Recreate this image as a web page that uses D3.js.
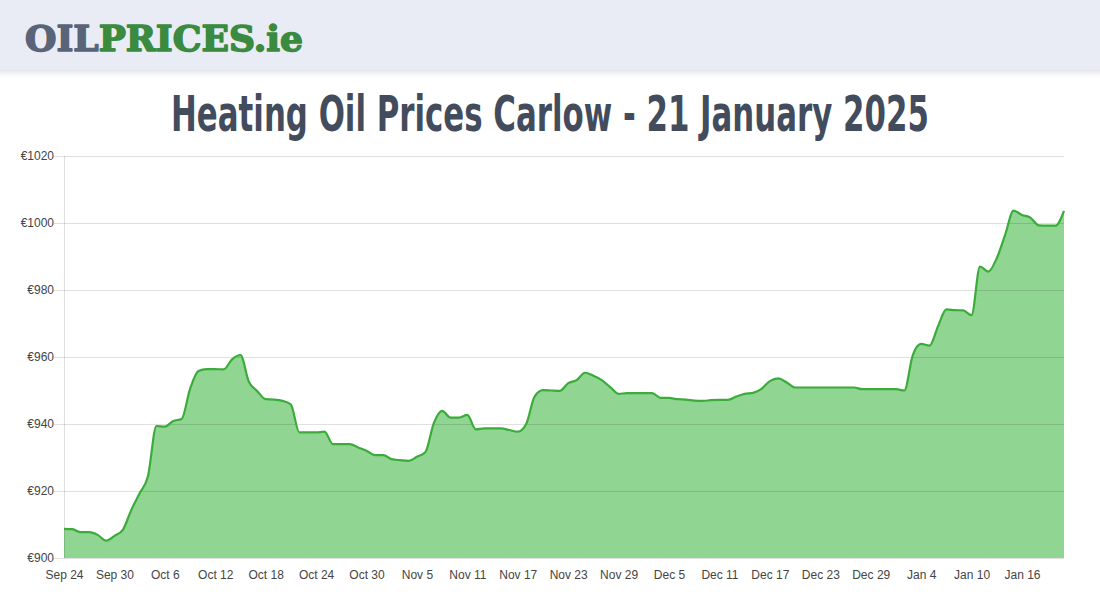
<!DOCTYPE html>
<html>
<head>
<meta charset="utf-8">
<script src="https://cdn.jsdelivr.net/npm/d3@7"></script>
<style>
  html, body { margin: 0; padding: 0; background: #ffffff; }
  svg { display: block; }
</style>
</head>
<body>
<div id="chart"></div>
<script>
// ---- data ----
const titleText = "Heating Oil Prices Carlow - 21 January 2025";
const startDate = "2024-09-24";
// daily prices (€), Sep 24 2024 -> Jan 21 2025
const prices = [
  908.7, 908.6, 907.7, 907.7, 906.9, 905.2, 906.6, 908.4, 914.3, 919.3,
  924.5, 939.4, 939.2, 940.9, 941.5, 950.5, 955.8, 956.4, 956.4, 956.3,
  959.3, 960.6, 952.6, 949.8, 947.4, 947.3, 946.9, 945.8, 937.5, 937.5,
  937.5, 937.7, 934.0, 934.0, 934.0, 933.0, 932.0, 930.7, 930.7, 929.5,
  929.2, 929.0, 930.2, 931.6, 940.2, 943.9, 941.9, 941.9, 942.7, 938.4,
  938.7, 938.7, 938.7, 938.2, 937.7, 940.0, 948.2, 950.1, 950.0, 949.9,
  952.2, 953.1, 955.3, 954.4, 953.1, 951.0, 949.0, 949.2, 949.2, 949.2,
  949.2, 947.8, 947.8, 947.4, 947.3, 947.0, 946.9, 947.1, 947.2, 947.2,
  948.2, 949.0, 949.3, 950.5, 952.8, 953.6, 952.4, 950.9, 950.9, 950.9,
  950.9, 950.9, 950.9, 950.9, 950.9, 950.4, 950.4, 950.4, 950.4, 950.4,
  950.0, 960.5, 963.9, 963.4, 969.1, 974.2, 974.0, 973.9, 972.5, 987.0,
  985.5, 989.5, 996.5, 1003.7, 1002.4, 1001.6, 999.3, 999.2, 999.2, 1003.6
];
const yTicks = [900, 920, 940, 960, 980, 1000, 1020];
const xTickLabels = ["Sep 24","Sep 30","Oct 6","Oct 12","Oct 18","Oct 24","Oct 30",
  "Nov 5","Nov 11","Nov 17","Nov 23","Nov 29","Dec 5","Dec 11","Dec 17","Dec 23",
  "Dec 29","Jan 4","Jan 10","Jan 16"];

// ---- build ----
const W = 1100, H = 600;
const svg = d3.select("#chart").append("svg").attr("width", W).attr("height", H);

const defs = svg.append("defs");
const grad = defs.append("linearGradient").attr("id", "hdrShadow")
  .attr("x1", 0).attr("y1", 0).attr("x2", 0).attr("y2", 1);
grad.append("stop").attr("offset", "0%").attr("stop-color", "#dfe2ea").attr("stop-opacity", 0.9);
grad.append("stop").attr("offset", "100%").attr("stop-color", "#ffffff").attr("stop-opacity", 0);

// header
svg.append("rect").attr("x", 0).attr("y", 70).attr("width", W).attr("height", 10).attr("fill", "url(#hdrShadow)");
svg.append("rect").attr("x", 0).attr("y", 0).attr("width", W).attr("height", 70).attr("fill", "#e9ecf4");

function fitText(sel, targetW) {
  const w = sel.node().getComputedTextLength();
  const x0 = +sel.attr("x");
  const anchor = sel.attr("text-anchor");
  const s = targetW / w;
  if (anchor === "middle") {
    sel.attr("transform", `translate(${x0},0) scale(${s},1) translate(${-x0},0)`);
  } else {
    sel.attr("transform", `translate(${x0},0) scale(${s},1) translate(${-x0},0)`);
  }
}

const logo = svg.append("text")
  .attr("x", 25).attr("y", 51)
  .attr("font-family", "'DejaVu Serif', serif")
  .attr("font-weight", "bold")
  .attr("font-size", 36)
  .attr("stroke-width", 1.6)
  .attr("stroke-linejoin", "round");
logo.append("tspan").attr("fill", "#5a6479").attr("stroke", "#5a6479").text("OIL");
logo.append("tspan").attr("fill", "#3a8b3f").attr("stroke", "#3a8b3f").text("PRICES.ie");
fitText(logo, 278);

// title
const title = svg.append("text")
  .attr("x", 550).attr("y", 131)
  .attr("text-anchor", "middle")
  .attr("font-family", "'DejaVu Sans Condensed', 'DejaVu Sans', sans-serif")
  .attr("font-stretch", "condensed")
  .attr("font-weight", "bold")
  .attr("font-size", 50)
  .attr("fill", "#434c5c")
  .text(titleText);
fitText(title, 758);

// scales
const parse = d3.timeParse("%Y-%m-%d");
const t0 = parse(startDate);
const data = prices.map((v, i) => ({ date: d3.timeDay.offset(t0, i), value: v }));
const x = d3.scaleTime()
  .domain([data[0].date, data[data.length - 1].date])
  .range([64, 1064]);
const y = d3.scaleLinear().domain([900, 1020]).range([558, 156]);

// area + line
const area = d3.area().x(d => x(d.date)).y0(y(900)).y1(d => y(d.value)).curve(d3.curveMonotoneX);
const line = d3.line().x(d => x(d.date)).y(d => y(d.value)).curve(d3.curveMonotoneX);
svg.append("path").datum(data).attr("d", area).attr("fill", "#91d592");

// grid on top of area
const yAxis = d3.axisLeft(y).tickValues(yTicks).tickSize(-1000).tickPadding(4)
  .tickFormat(d => "€" + d);
const gy = svg.append("g").attr("transform", "translate(64,0)").call(yAxis);
gy.select(".domain").remove();
gy.selectAll(".tick line").attr("stroke", "#000").attr("stroke-opacity", 0.12).attr("x1", -10);
gy.selectAll(".tick text")
  .attr("x", -10)
  .attr("font-family", "'Liberation Sans', Arial, sans-serif")
  .attr("font-size", 12).attr("fill", "#444");
svg.append("line").attr("x1", 64.5).attr("x2", 64.5).attr("y1", 156).attr("y2", 558)
  .attr("stroke", "#000").attr("stroke-opacity", 0.12);

svg.append("path").datum(data).attr("d", line)
  .attr("fill", "none").attr("stroke", "#3aac3a").attr("stroke-width", 2.2);

// x axis
const tickDates = xTickLabels.map((_, i) => d3.timeDay.offset(t0, i * 6));
const xAxis = d3.axisBottom(x).tickValues(tickDates).tickSize(0).tickPadding(12)
  .tickFormat((d, i) => xTickLabels[i]);
const gx = svg.append("g").attr("transform", "translate(0,558)").call(xAxis);
gx.select(".domain").remove();
gx.selectAll(".tick text")
  .attr("font-family", "'Liberation Sans', Arial, sans-serif")
  .attr("font-size", 12).attr("fill", "#444");
</script>
</body>
</html>
